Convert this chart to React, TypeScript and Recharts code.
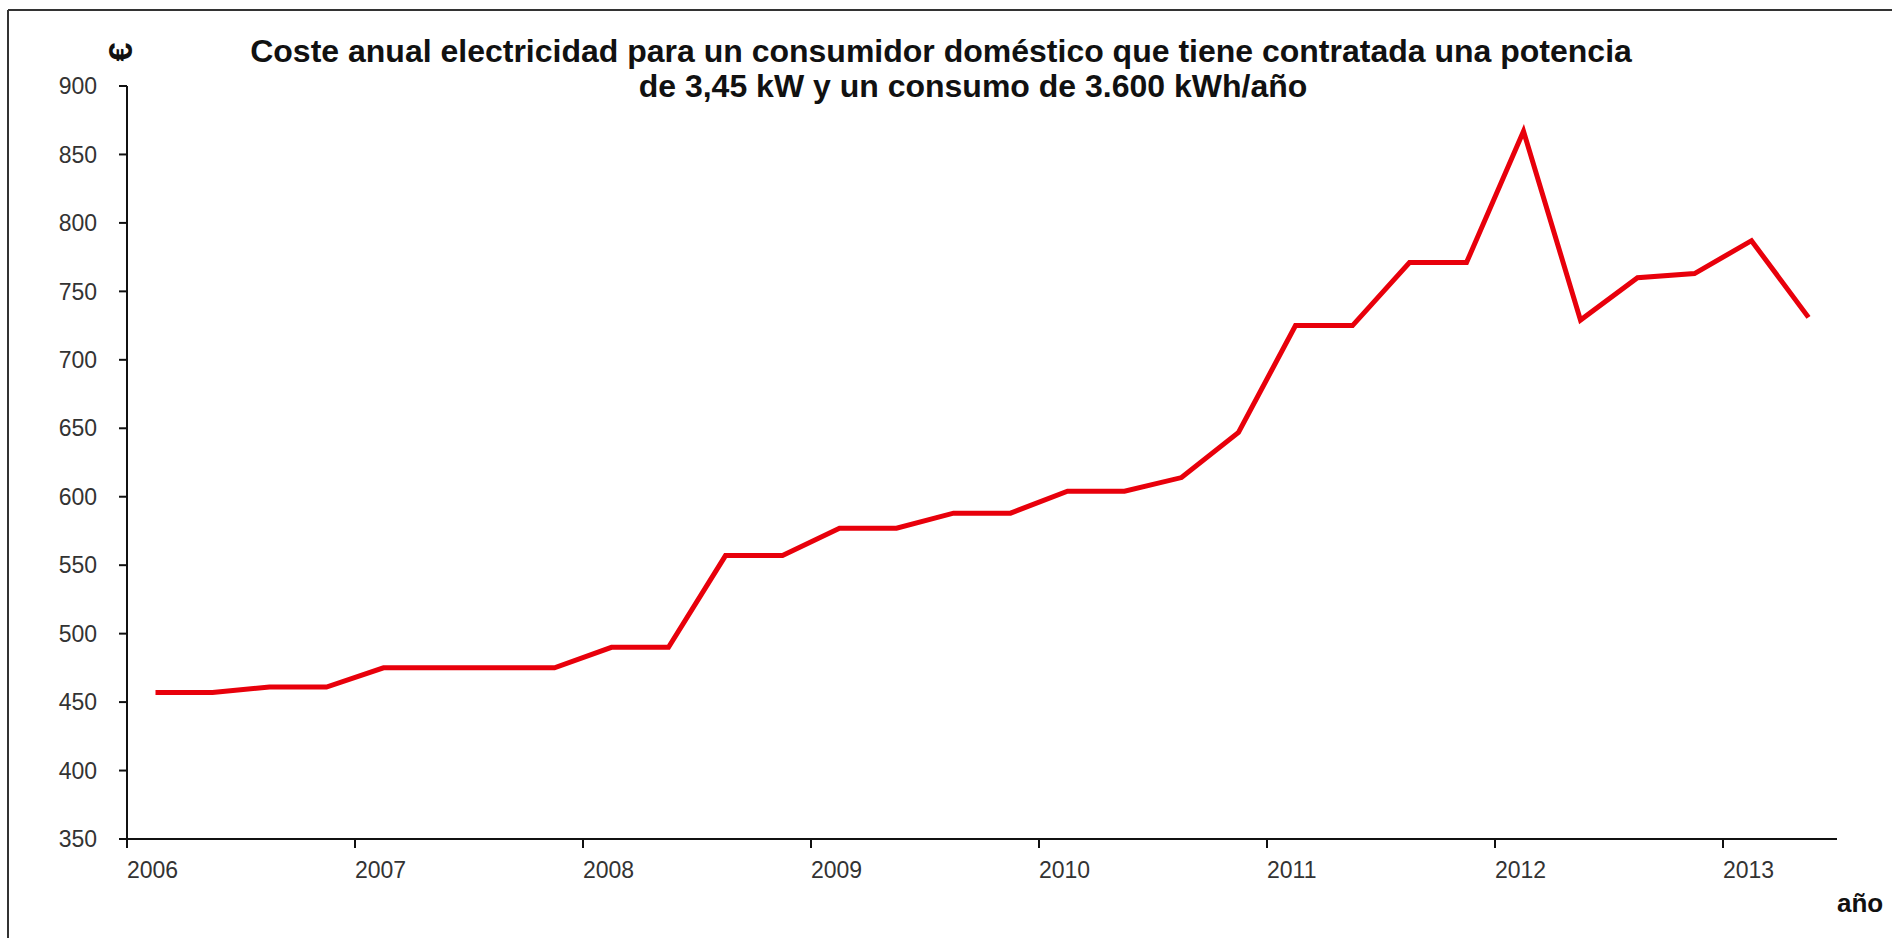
import React from 'react';
import { LineChart, Line, XAxis, YAxis } from 'recharts';

// quarterly annual cost (EUR), 3.45 kW contracted, 3,600 kWh/year
const quarters = [
  '2006-T1', '2006-T2', '2006-T3', '2006-T4',
  '2007-T1', '2007-T2', '2007-T3', '2007-T4',
  '2008-T1', '2008-T2', '2008-T3', '2008-T4',
  '2009-T1', '2009-T2', '2009-T3', '2009-T4',
  '2010-T1', '2010-T2', '2010-T3', '2010-T4',
  '2011-T1', '2011-T2', '2011-T3', '2011-T4',
  '2012-T1', '2012-T2', '2012-T3', '2012-T4',
  '2013-T1', '2013-T2',
];
const costs = [
  457, 457, 461, 461,
  475, 475, 475, 475,
  490, 490, 557, 557,
  577, 577, 588, 588,
  604, 604, 614, 647,
  725, 725, 771, 771,
  867, 729, 760, 763,
  787, 731,
];
const yearTicks = [2006, 2007, 2008, 2009, 2010, 2011, 2012, 2013];
const costTicks = [350, 400, 450, 500, 550, 600, 650, 700, 750, 800, 850, 900];

const titleLine1 = 'Coste anual electricidad para un consumidor doméstico que tiene contratada una potencia';
const titleLine2 = 'de 3,45 kW y un consumo de 3.600 kWh/año';

const W = 1892;
const H = 938;
const FONT = '"Liberation Sans", Arial, sans-serif';

// each quarter sits in the middle of its span on the time axis
const data = quarters.map((q, i) => {
  const [year, t] = q.split('-T');
  return { t: Number(year) + (Number(t) - 0.5) / 4, coste: costs[i] };
});

const YearTick = (props: any) => {
  const { x, y, payload } = props;
  return (
    <text x={x} y={y} dy={30} textAnchor="start" fill="#333" fontSize={23} fontFamily={FONT}>
      {payload.value}
    </text>
  );
};

export default function App() {
  return (
    <div style={{ position: 'absolute', left: 0, top: 0, width: W, height: H, background: '#fff' }}>
      <LineChart width={W} height={H} data={data} margin={{ top: 86, right: 55, bottom: 0, left: 0 }}>
        <XAxis
          dataKey="t"
          type="number"
          domain={[2006, 2013.5]}
          ticks={yearTicks}
          allowDataOverflow
          height={99}
          tickSize={9}
          tickMargin={0}
          tick={<YearTick />}
          axisLine={{ stroke: '#111', strokeWidth: 2 }}
          tickLine={{ stroke: '#111', strokeWidth: 2 }}
        />
        <YAxis
          type="number"
          domain={[350, 900]}
          ticks={costTicks}
          width={127}
          tickSize={8}
          tickMargin={22}
          tick={{ fill: '#333', fontSize: 23, fontFamily: FONT }}
          axisLine={{ stroke: '#111', strokeWidth: 2 }}
          tickLine={{ stroke: '#111', strokeWidth: 2 }}
        />
        <Line
          type="linear"
          dataKey="coste"
          stroke="#e8000b"
          strokeWidth={5}
          dot={false}
          activeDot={false}
          isAnimationActive={false}
        />
      </LineChart>
      <svg width={W} height={H} style={{ position: 'absolute', left: 0, top: 0, pointerEvents: 'none' }}>
        <line x1={8} y1={10} x2={W} y2={10} stroke="#333" strokeWidth={2} />
        <line x1={8} y1={10} x2={8} y2={H} stroke="#333" strokeWidth={2} />
        <text fontFamily={FONT} fontWeight="bold" fontSize={32} fill="#111" textAnchor="middle">
          <tspan x={941} y={62}>{titleLine1}</tspan>
          <tspan x={973} y={97}>{titleLine2}</tspan>
        </text>
        <text
          x={0}
          y={0}
          transform="translate(132 52) rotate(-90)"
          textAnchor="middle"
          fontFamily={FONT}
          fontWeight="bold"
          fontSize={34}
          fill="#111"
        >
          €
        </text>
        <text x={1837} y={912} fontFamily={FONT} fontWeight="bold" fontSize={26} fill="#111">
          año
        </text>
      </svg>
    </div>
  );
}
